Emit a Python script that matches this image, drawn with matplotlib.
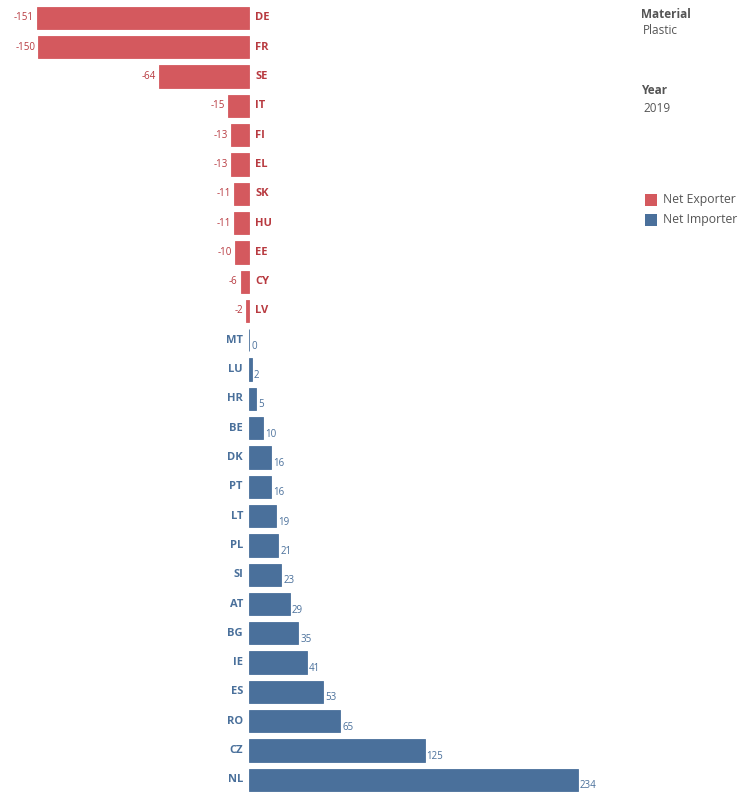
import matplotlib
matplotlib.use("Agg")
import matplotlib.pyplot as plt
from matplotlib.patches import Rectangle
from matplotlib import transforms

plt.rcParams['font.family'] = ['Open Sans', 'DejaVu Sans']

countries = ["DE", "FR", "SE", "IT", "FI", "EL", "SK", "HU", "EE", "CY", "LV",
             "MT", "LU", "HR", "BE", "DK", "PT", "LT", "PL", "SI", "AT", "BG",
             "IE", "ES", "RO", "CZ", "NL"]
net_balance = [-151, -150, -64, -15, -13, -13, -11, -11, -10, -6, -2,
               0, 2, 5, 10, 16, 16, 19, 21, 23, 29, 35,
               41, 53, 65, 125, 234]
legend_labels = ["Net Exporter", "Net Importer"]
material = "Plastic"
year = "2019"

RED = "#d4595e"
BLUE = "#4a709b"
RED_TXT = "#b83a40"
BLUE_TXT = "#4a709b"
GREY = "#555555"

fig = plt.figure(figsize=(7.42, 7.92), dpi=100)
ax = fig.add_axes([0, 0, 620 / 742, 1])
ax.set_xlim(-249 / 1.404, (620 - 249) / 1.404)
ax.set_ylim(26.416, -0.614)
ax.axis("off")

ypos = list(range(len(countries)))
colors = [RED if v < 0 else BLUE for v in net_balance]
ax.barh(ypos, net_balance, height=0.76, color=colors, edgecolor=colors, linewidth=0.6)

px = transforms.offset_copy
for y, c, v, col in zip(ypos, countries, net_balance, colors):
    if v < 0:
        ax.text(0, y, c, transform=px(ax.transData, fig=fig, x=6, y=0, units="dots"),
                ha="left", va="center", fontsize=8, fontweight="bold", color=RED_TXT)
        ax.text(v, y, str(v), transform=px(ax.transData, fig=fig, x=-3, y=0, units="dots"),
                ha="right", va="center", fontsize=7, color=RED_TXT)
    else:
        ax.text(0, y, c, transform=px(ax.transData, fig=fig, x=-6, y=0, units="dots"),
                ha="right", va="center", fontsize=8, fontweight="bold", color=BLUE_TXT)
        ax.text(v, y, str(v), transform=px(ax.transData, fig=fig, x=2, y=-6, units="dots"),
                ha="left", va="center", fontsize=7, color=BLUE_TXT)

# Filter captions
fig.text(641 / 742, 1 - 14 / 792, "Material", fontsize=8.5, fontweight="bold",
         color=GREY, ha="left", va="center")
fig.text(643 / 742, 1 - 31 / 792, material, fontsize=8.5, color=GREY, ha="left", va="center")
fig.text(641 / 742, 1 - 91 / 792, "Year", fontsize=8.5, fontweight="bold",
         color=GREY, ha="left", va="center")
fig.text(643 / 742, 1 - 108 / 792, year, fontsize=8.5, color=GREY, ha="left", va="center")

# Colour legend
for i, (lab, col) in enumerate(zip(legend_labels, [RED, BLUE])):
    yc = 200 + i * 20
    fig.patches.append(Rectangle((645 / 742, 1 - (yc + 6) / 792), 12 / 742, 12 / 792,
                                 transform=fig.transFigure, facecolor=col, edgecolor="none"))
    fig.text(663 / 742, 1 - yc / 792, lab, fontsize=8.8, color=GREY, ha="left", va="center")

fig.savefig("out.png", dpi=100, facecolor="white")
